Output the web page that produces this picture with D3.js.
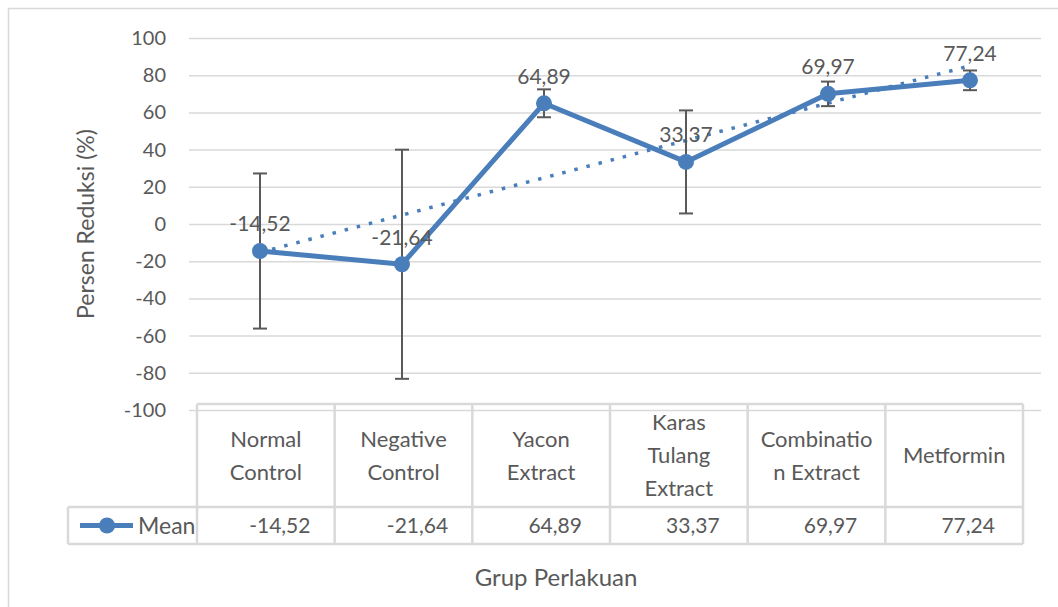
<!DOCTYPE html>
<html>
<head>
<meta charset="utf-8">
<script src="https://cdn.jsdelivr.net/npm/d3@7"></script>
<style>
  body { margin: 0; background: #fff; }
  text { font-family: Lato, "Open Sans", sans-serif; fill: #595959; }
</style>
</head>
<body>
<script>
// chart values
var categories = ['Normal Control', 'Negative Control', 'Yacon Extract', 'Karas Tulang Extract', 'Combination Extract', 'Metformin'];
var categoryLines = [['Normal', 'Control'], ['Negative', 'Control'], ['Yacon', 'Extract'], ['Karas', 'Tulang', 'Extract'], ['Combinatio', 'n Extract'], ['Metformin']];
var means = [-14.52, -21.64, 64.89, 33.37, 69.97, 77.24];
var errors = [41.7, 61.6, 7.5, 27.7, 6.6, 5.3];
var yTicks = [-100, -80, -60, -40, -20, 0, 20, 40, 60, 80, 100];

var width = 1058, height = 607;
var blue = '#4a7ebb', grid = '#d9d9d9';

var svg = d3.select('body').append('svg')
    .attr('width', width)
    .attr('height', height);

// outer chart border
svg.append('rect')
    .attr('x', 8.5).attr('y', 8.5)
    .attr('width', 1200).attr('height', 800)
    .attr('fill', 'none')
    .attr('stroke', grid)
    .attr('stroke-width', 1.5);

// scales
var x = d3.scalePoint()
    .domain(categories)
    .range([189, 1041])
    .padding(0.5);

var y = d3.scaleLinear()
    .domain([-100, 100])
    .range([410, 38]);

var tableX = d3.scaleBand()
    .domain(categories)
    .range([197, 1023]);

// numbers with hyphen minus and decimal comma
var fmt = function(v) { return d3.format('.2f')(v).replace('\u2212', '-').replace('.', ','); };

// y axis + gridlines
var yAxis = svg.append('g')
    .attr('transform', 'translate(189,0)')
    .call(d3.axisLeft(y)
        .tickValues(yTicks)
        .tickSize(-852)
        .tickPadding(23)
        .tickFormat(function(d) { return String(d); }));
yAxis.select('.domain').remove();
yAxis.selectAll('.tick line')
    .attr('stroke', grid)
    .attr('stroke-width', 1.5);
yAxis.selectAll('.tick text')
    .attr('fill', '#595959')
    .style('font-size', '20px')
    .style('font-family', 'Lato, sans-serif');

// y axis title
svg.append('text')
    .attr('transform', 'translate(86,224) rotate(-90)')
    .attr('text-anchor', 'middle')
    .attr('dy', '0.35em')
    .style('font-size', '23px')
    .text('Persen Reduksi (%)');

// linear trendline (least squares over category index, as Excel does)
var xs = means.map(function(d, i) { return i + 1; });
var mx = d3.mean(xs), my = d3.mean(means);
var slope = d3.sum(xs, function(v, i) { return (v - mx) * (means[i] - my); }) /
            d3.sum(xs, function(v) { return (v - mx) * (v - mx); });
var icpt = my - slope * mx;
svg.append('line')
    .attr('x1', x(categories[0])).attr('y1', y(icpt + slope * 1))
    .attr('x2', x(categories[5])).attr('y2', y(icpt + slope * 6))
    .attr('stroke', blue)
    .attr('stroke-width', 3.5)
    .attr('stroke-dasharray', '3.5 9');

// error bars
var eb = svg.append('g').selectAll('g')
    .data(means)
    .enter().append('g')
    .attr('stroke', '#595959')
    .attr('stroke-width', 2);
eb.append('line')
    .attr('x1', function(d, i) { return x(categories[i]); })
    .attr('x2', function(d, i) { return x(categories[i]); })
    .attr('y1', function(d, i) { return y(d + errors[i]); })
    .attr('y2', function(d, i) { return y(d - errors[i]); });
[1, -1].forEach(function(s) {
    eb.append('line')
        .attr('x1', function(d, i) { return x(categories[i]) - 7; })
        .attr('x2', function(d, i) { return x(categories[i]) + 7; })
        .attr('y1', function(d, i) { return y(d + s * errors[i]); })
        .attr('y2', function(d, i) { return y(d + s * errors[i]); });
});

// mean line + markers
var line = d3.line()
    .x(function(d, i) { return x(categories[i]); })
    .y(function(d) { return y(d); });
svg.append('path')
    .datum(means)
    .attr('d', line)
    .attr('fill', 'none')
    .attr('stroke', blue)
    .attr('stroke-width', 5)
    .attr('stroke-linejoin', 'round');
svg.append('g').selectAll('circle')
    .data(means)
    .enter().append('circle')
    .attr('cx', function(d, i) { return x(categories[i]); })
    .attr('cy', function(d) { return y(d); })
    .attr('r', 8)
    .attr('fill', blue);

// data labels
svg.append('g').selectAll('text')
    .data(means)
    .enter().append('text')
    .attr('x', function(d, i) { return x(categories[i]); })
    .attr('y', function(d) { return y(d) - 27; })
    .attr('dy', '0.35em')
    .attr('text-anchor', 'middle')
    .style('font-size', '21px')
    .text(fmt);

// data table
var tTop = 404, tMid = 507, tBot = 544, legLeft = 68;
var tbl = svg.append('g')
    .attr('fill', 'none')
    .attr('stroke', grid)
    .attr('stroke-width', 2.5);
tbl.append('line').attr('x1', tableX.range()[0]).attr('x2', tableX.range()[1]).attr('y1', tTop).attr('y2', tTop);
tbl.append('line').attr('x1', legLeft).attr('x2', tableX.range()[1]).attr('y1', tMid).attr('y2', tMid);
tbl.append('line').attr('x1', legLeft).attr('x2', tableX.range()[1]).attr('y1', tBot).attr('y2', tBot);
tbl.append('line').attr('x1', legLeft).attr('x2', legLeft).attr('y1', tMid).attr('y2', tBot);
tbl.selectAll('.vline')
    .data(categories.concat(['end']))
    .enter().append('line')
    .attr('x1', function(d) { return d === 'end' ? tableX.range()[1] : tableX(d); })
    .attr('x2', function(d) { return d === 'end' ? tableX.range()[1] : tableX(d); })
    .attr('y1', tTop)
    .attr('y2', tBot);

// header cells
var hdr = svg.append('g').selectAll('text')
    .data(categories)
    .enter().append('text')
    .attr('text-anchor', 'middle')
    .style('font-size', '22px');
hdr.each(function(d, i) {
    var lines = categoryLines[i];
    var cx = tableX(d) + tableX.bandwidth() / 2;
    var cy = (tTop + tMid) / 2 - (lines.length - 1) * 33 / 2;
    d3.select(this).selectAll('tspan')
        .data(lines)
        .enter().append('tspan')
        .attr('x', cx)
        .attr('y', function(l, j) { return cy + j * 33; })
        .attr('dy', '0.35em')
        .text(function(l) { return l; });
});

// value cells
svg.append('g').selectAll('text')
    .data(means)
    .enter().append('text')
    .attr('x', function(d, i) { return tableX(categories[i]) + tableX.bandwidth() / 2 + 14; })
    .attr('y', (tMid + tBot) / 2)
    .attr('dy', '0.35em')
    .attr('text-anchor', 'middle')
    .style('font-size', '21px')
    .text(fmt);

// legend key in table
svg.append('line')
    .attr('x1', 80).attr('x2', 133)
    .attr('y1', (tMid + tBot) / 2).attr('y2', (tMid + tBot) / 2)
    .attr('stroke', blue)
    .attr('stroke-width', 5);
svg.append('circle')
    .attr('cx', 107).attr('cy', (tMid + tBot) / 2)
    .attr('r', 8)
    .attr('fill', blue);
svg.append('text')
    .attr('x', 138).attr('y', (tMid + tBot) / 2)
    .attr('dy', '0.35em')
    .style('font-size', '23px')
    .text('Mean');

// x axis title
svg.append('text')
    .attr('x', 556).attr('y', 578)
    .attr('dy', '0.35em')
    .attr('text-anchor', 'middle')
    .style('font-size', '24px')
    .text('Grup Perlakuan');
</script>
</body>
</html>
